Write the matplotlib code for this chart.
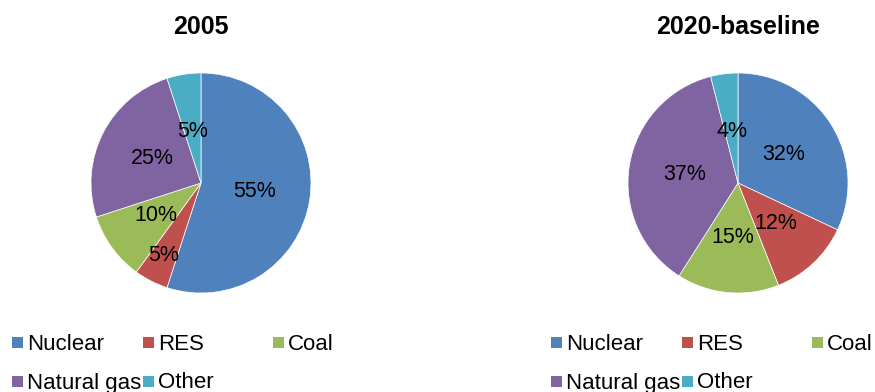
import matplotlib
matplotlib.use("Agg")
import matplotlib.pyplot as plt
from matplotlib.patches import Rectangle
import numpy as np

plt.rcParams['font.family'] = ['Liberation Sans', 'DejaVu Sans']

categories = ["Nuclear", "RES", "Coal", "Natural gas", "Other"]
titles = ["2005", "2020-baseline"]
values_2005 = [55, 5, 10, 25, 5]
values_2020 = [32, 12, 15, 37, 4]
colors = ["#4F81BD", "#C0504D", "#9BBB59", "#8064A2", "#4BACC6"]

W, H = 875, 392
fig = plt.figure(figsize=(W / 100, H / 100), dpi=100)

def fx(x):
    return x / W

def fy(y):
    return 1 - y / H

# pie layout (pixel centers and radius)
centers = [(201, 183), (738, 183)]
R = 110
label_dist = [[0.49, 0.74, 0.51, 0.5, 0.47], [0.49, 0.5, 0.5, 0.49, 0.47]]

for i, (vals, title) in enumerate(zip([values_2005, values_2020], titles)):
    cx, cy = centers[i]
    ax = fig.add_axes([fx(cx - R), fy(cy + R), 2 * R / W, 2 * R / H])
    wedges, texts, autotexts = ax.pie(
        vals, colors=colors, startangle=90, counterclock=False,
        autopct='%1.0f%%', pctdistance=0.5,
        wedgeprops=dict(edgecolor='white', linewidth=0.5),
        textprops=dict(fontsize=15.5, color='black'))
    total = sum(vals)
    cum = 0
    for j, (v, t) in enumerate(zip(vals, autotexts)):
        mid = 90 - 360 * (cum + v / 2) / total
        cum += v
        d = label_dist[i][j]
        t.set_position((d * np.cos(np.radians(mid)), d * np.sin(np.radians(mid))))
        t.set_ha('center')
        t.set_va('center')
    ax.set_xlim(-1, 1)
    ax.set_ylim(-1, 1)
    ax.set_aspect('equal')
    ax.axis('off')
    fig.text(fx(cx), fy(27), title, ha='center', va='center',
             fontsize=18, fontweight='bold')

# manual legends (Excel-like layout)
legend_x0 = [12, 551]
col_off = [0, 131, 261]
rows_y = [342, 381]
sq = 11
slots = [(0, 0), (0, 1), (0, 2), (1, 0), (1, 1)]
for lx in legend_x0:
    for (r, c), name, col in zip(slots, categories, colors):
        x = lx + col_off[c]
        y = rows_y[r]
        fig.patches.append(Rectangle((fx(x), fy(y + sq / 2)), sq / W, sq / H,
                                     transform=fig.transFigure, facecolor=col,
                                     edgecolor='none'))
        fig.text(fx(x + sq + 4), fy(y + 7.5), name, ha='left', va='baseline',
                 fontsize=16)

fig.savefig("out.png", dpi=100)
